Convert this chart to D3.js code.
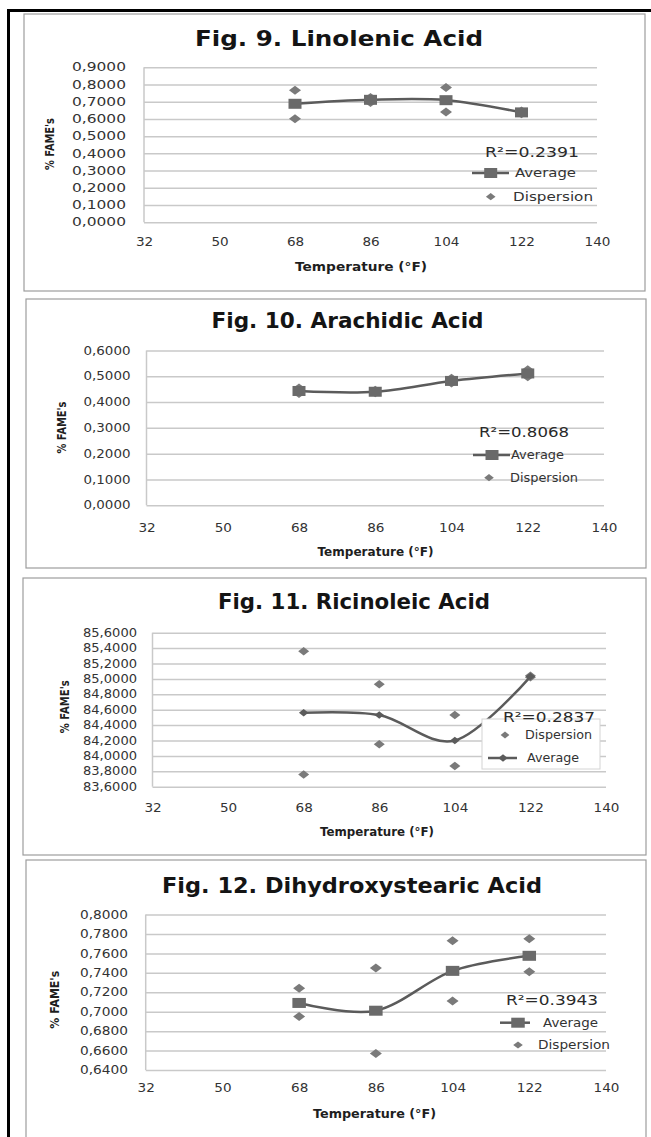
<!DOCTYPE html>
<html>
<head>
<meta charset="utf-8">
<script src="https://cdn.jsdelivr.net/npm/d3@7"></script>
<style>
  body { margin: 0; background: #fff; }
  svg { display: block; }
  text { font-family: "DejaVu Sans", Verdana, sans-serif; }
</style>
</head>
<body>
<svg id="chart" width="651" height="1137"></svg>
<script>
// ---- data ----
const temperatures = [68, 86, 104, 122];
const xTickValues = [32, 50, 68, 86, 104, 122, 140];

const titles = [
  "Fig. 9. Linolenic Acid",
  "Fig. 10. Arachidic Acid",
  "Fig. 11. Ricinoleic Acid",
  "Fig. 12. Dihydroxystearic Acid"
];
const rSquared = ["R²=0.2391", "R²=0.8068", "R²=0.2837", "R²=0.3943"];

// Fig. 9 – Linolenic acid
const linolenicAverage = [0.688, 0.711, 0.709, 0.638];
const linolenicHigh    = [0.767, 0.725, 0.783, 0.646];
const linolenicLow     = [0.601, 0.696, 0.640, 0.630];
const linolenicTicks   = [0, 0.1, 0.2, 0.3, 0.4, 0.5, 0.6, 0.7, 0.8, 0.9];

// Fig. 10 – Arachidic acid
const arachidicAverage = [0.443, 0.440, 0.482, 0.511];
const arachidicHigh    = [0.455, 0.446, 0.492, 0.525];
const arachidicLow     = [0.433, 0.436, 0.474, 0.498];
const arachidicTicks   = [0, 0.1, 0.2, 0.3, 0.4, 0.5, 0.6];

// Fig. 11 – Ricinoleic acid
const ricinoleicAverage = [84.56, 84.53, 84.20, 85.03];
const ricinoleicHigh    = [85.36, 84.93, 84.53, 85.04];
const ricinoleicLow     = [83.76, 84.15, 83.87, 85.02];
const ricinoleicTicks   = [83.6, 83.8, 84.0, 84.2, 84.4, 84.6, 84.8, 85.0, 85.2, 85.4, 85.6];

// Fig. 12 – Dihydroxystearic acid
const dihydroxyAverage = [0.709, 0.701, 0.742, 0.7575];
const dihydroxyHigh    = [0.724, 0.745, 0.773, 0.775];
const dihydroxyLow     = [0.695, 0.657, 0.711, 0.741];
const dihydroxyTicks   = [0.64, 0.66, 0.68, 0.70, 0.72, 0.74, 0.76, 0.78, 0.80];

const charts = [
  { title: titles[0], r2: rSquared[0], avg: linolenicAverage,  high: linolenicHigh,  low: linolenicLow,  ticks: linolenicTicks },
  { title: titles[1], r2: rSquared[1], avg: arachidicAverage,  high: arachidicHigh,  low: arachidicLow,  ticks: arachidicTicks },
  { title: titles[2], r2: rSquared[2], avg: ricinoleicAverage, high: ricinoleicHigh, low: ricinoleicLow, ticks: ricinoleicTicks },
  { title: titles[3], r2: rSquared[3], avg: dihydroxyAverage,  high: dihydroxyHigh,  low: dihydroxyLow,  ticks: dihydroxyTicks }
];

// ---- layout (pixel geometry of each panel) ----
const layout = [
  { frame: [24, 14, 645, 291], plot: [144, 67.3, 597, 222.2], title: [339, 45.5, 288],
    yLabelRight: 126, yTickW: 54, xTickY: 242, xTitle: [361, 270.5, 132], yTitle: [50, 144, 52],
    r2: [485, 157, 94], avgRow: [173, 472, 509, 490.7, 515, 61], dispRow: [196.7, 490.7, 513, 80],
    avgShape: "square", avgSize: [13, 10], dispSize: [12, 9], legendOrder: ["avg", "disp"] },
  { frame: [26, 299, 646, 568], plot: [146.5, 350.5, 604, 505.2], title: [347.5, 327.5, 272],
    yLabelRight: 130.5, yTickW: 47, xTickY: 528.3, xTitle: [375.5, 555.7, 116], yTitle: [62, 427.5, 52],
    r2: [479, 436.5, 90], avgRow: [455, 473, 510, 492, 511, 53], dispRow: [477.7, 489, 510, 68],
    avgShape: "square", avgSize: [13, 10], dispSize: [12, 9], legendOrder: ["avg", "disp"] },
  { frame: [23, 578, 646, 855], plot: [152.5, 632.7, 606, 786.7], title: [354, 608.5, 272],
    yLabelRight: 137, yTickW: 54, xTickY: 808.3, xTitle: [377, 835.7, 114], yTitle: [65, 706.7, 53],
    r2: [503, 721.5, 92], legendBox: [482, 719, 600, 769], dispRow: [735, 505, 525, 67], avgRow: [758, 488, 517, 503, 527, 52],
    avgShape: "diamond", avgSize: [9.5, 7.5], dispSize: [11, 8.5], legendOrder: ["disp", "avg"] },
  { frame: [26, 860, 646, 1145], plot: [145.7, 914.5, 606, 1070], title: [352, 892.5, 380],
    yLabelRight: 128, yTickW: 48, xTickY: 1088.3, xTitle: [374.5, 1118.3, 123], yTitle: [55, 999.7, 58],
    r2: [506, 1004.5, 92], avgRow: [1022.7, 500, 530, 518, 543, 55], dispRow: [1045, 518, 538, 72],
    avgShape: "square", avgSize: [13.5, 10], dispSize: [12, 9], legendOrder: ["avg", "disp"] }
];

const COLORS = {
  line: "#5b5b5b", square: "#6a6a6a", diamond: "#7a7a7a",
  grid: "#c9c9c9", frame: "#9d9d9d", text: "#333333", title: "#141414"
};

const svg = d3.select("#chart");
const fmt = d3.formatLocale({ decimal: ",", thousands: ".", grouping: [3], currency: ["", ""] }).format(".4f");

// squeeze or widen a text run to a given pixel width
function fitWidth(sel, w) {
  sel.attr("textLength", w).attr("lengthAdjust", "spacingAndGlyphs");
}
function stretch(sel, sx) {
  sel.each(function () {
    const n = this.getComputedTextLength();
    this.setAttribute("textLength", n * sx);
    this.setAttribute("lengthAdjust", "spacingAndGlyphs");
  });
}
function diamondPath(cx, cy, w, h) {
  return `M${cx},${cy - h / 2}L${cx + w / 2},${cy}L${cx},${cy + h / 2}L${cx - w / 2},${cy}Z`;
}
function drawMarker(g, shape, cx, cy, size, fill) {
  if (shape === "square") {
    g.append("rect").attr("x", cx - size[0] / 2).attr("y", cy - size[1] / 2)
      .attr("width", size[0]).attr("height", size[1]).attr("fill", fill);
  } else {
    g.append("path").attr("d", diamondPath(cx, cy, size[0], size[1])).attr("fill", fill);
  }
}

// table border around the figure column
svg.append("line").attr("x1", 7).attr("x2", 651).attr("y1", 10.5).attr("y2", 10.5)
  .attr("stroke", "#000").attr("stroke-width", 3);
svg.append("line").attr("x1", 8.5).attr("x2", 8.5).attr("y1", 9).attr("y2", 1137)
  .attr("stroke", "#000").attr("stroke-width", 3);

charts.forEach((c, i) => {
  const L = layout[i];
  const g = svg.append("g");

  // chart frame
  g.append("rect")
    .attr("x", L.frame[0]).attr("y", L.frame[1])
    .attr("width", L.frame[2] - L.frame[0]).attr("height", L.frame[3] - L.frame[1])
    .attr("fill", "#fff").attr("stroke", COLORS.frame).attr("stroke-width", 1.2);

  const x = d3.scaleLinear().domain([32, 140]).range([L.plot[0], L.plot[2]]);
  const y = d3.scaleLinear().domain(d3.extent(c.ticks)).range([L.plot[3], L.plot[1]]);
  const plotW = L.plot[2] - L.plot[0];

  // title
  g.append("text")
    .attr("x", L.title[0]).attr("y", L.title[1])
    .attr("text-anchor", "middle")
    .attr("font-size", 21).attr("font-weight", "bold").attr("fill", COLORS.title)
    .text(c.title)
    .call(fitWidth, L.title[2]);

  // y axis with horizontal gridlines
  const yAxis = g.append("g")
    .attr("transform", `translate(${L.plot[0]},0)`)
    .call(d3.axisLeft(y).tickValues(c.ticks).tickFormat(fmt)
      .tickSize(-plotW).tickPadding(L.plot[0] - L.yLabelRight));
  yAxis.select(".domain").remove();
  yAxis.selectAll(".tick line").attr("stroke", COLORS.grid).attr("stroke-width", 1.5);
  const yLabels = yAxis.selectAll(".tick text")
    .attr("font-size", 11.5).attr("font-family", "DejaVu Sans").attr("fill", COLORS.text);
  const natural = yLabels.node().getComputedTextLength();
  stretch(yLabels, L.yTickW / natural);

  // vertical axis line
  g.append("line")
    .attr("x1", L.plot[0]).attr("x2", L.plot[0])
    .attr("y1", L.plot[1]).attr("y2", L.plot[3])
    .attr("stroke", COLORS.grid).attr("stroke-width", 1.5);

  // x axis labels
  const xAxis = g.append("g")
    .attr("transform", `translate(0,${L.xTickY})`)
    .call(d3.axisBottom(x).tickValues(xTickValues).tickSize(0).tickPadding(0));
  xAxis.select(".domain").remove();
  const xLabels = xAxis.selectAll(".tick text")
    .attr("y", 0).attr("dy", "0.36em")
    .attr("font-size", 11.5).attr("font-family", "DejaVu Sans").attr("fill", COLORS.text);
  stretch(xLabels, 1.18);

  // axis titles
  g.append("text")
    .attr("x", L.xTitle[0]).attr("y", L.xTitle[1])
    .attr("text-anchor", "middle")
    .attr("font-size", 11.5).attr("font-weight", "bold").attr("fill", "#1e1e1e")
    .text("Temperature (°F)")
    .call(fitWidth, L.xTitle[2]);

  g.append("text")
    .attr("transform", `translate(${L.yTitle[0]},${L.yTitle[1]}) rotate(-90)`)
    .attr("text-anchor", "middle").attr("dy", "0.35em")
    .attr("font-size", 11.5).attr("font-weight", "bold").attr("fill", "#1e1e1e")
    .text("% FAME's")
    .call(fitWidth, L.yTitle[2]);

  // dispersion points
  const disp = g.append("g");
  temperatures.forEach((t, j) => {
    drawMarker(disp, "diamond", x(t), y(c.high[j]), L.dispSize, COLORS.diamond);
    drawMarker(disp, "diamond", x(t), y(c.low[j]), L.dispSize, COLORS.diamond);
  });

  // smoothed average line
  const line = d3.line()
    .x((d, j) => x(temperatures[j]))
    .y(d => y(d))
    .curve(d3.curveCardinal.tension(0));
  g.append("path")
    .attr("d", line(c.avg))
    .attr("fill", "none").attr("stroke", COLORS.line).attr("stroke-width", 2.5);
  const avgG = g.append("g");
  c.avg.forEach((v, j) => {
    drawMarker(avgG, L.avgShape, x(temperatures[j]), y(v), L.avgSize,
      L.avgShape === "square" ? COLORS.square : COLORS.line);
  });

  // legend
  const lg = g.append("g");
  if (L.legendBox) {
    const b = L.legendBox;
    lg.append("rect").attr("x", b[0]).attr("y", b[1]).attr("width", b[2] - b[0]).attr("height", b[3] - b[1])
      .attr("fill", "#fff").attr("stroke", "#d4d4d4").attr("stroke-width", 1);
  }
  lg.append("text")
    .attr("x", L.r2[0]).attr("y", L.r2[1])
    .attr("font-size", 13.5).attr("fill", "#2a2a2a")
    .text(c.r2)
    .call(fitWidth, L.r2[2]);

  const a = L.avgRow;
  lg.append("line").attr("x1", a[1]).attr("x2", a[2]).attr("y1", a[0]).attr("y2", a[0])
    .attr("stroke", COLORS.line).attr("stroke-width", 2.5);
  drawMarker(lg, L.avgShape, a[3], a[0], L.avgSize, L.avgShape === "square" ? COLORS.square : COLORS.line);
  lg.append("text").attr("x", a[4]).attr("y", a[0]).attr("dy", "0.35em")
    .attr("font-size", 12).attr("fill", "#333").text("Average")
    .call(fitWidth, a[5]);

  const d = L.dispRow;
  drawMarker(lg, "diamond", d[1], d[0], [L.dispSize[0] * 0.8, L.dispSize[1] * 0.8], COLORS.diamond);
  lg.append("text").attr("x", d[2]).attr("y", d[0]).attr("dy", "0.35em")
    .attr("font-size", 12).attr("fill", "#333").text("Dispersion")
    .call(fitWidth, d[3]);
});
</script>
</body>
</html>
